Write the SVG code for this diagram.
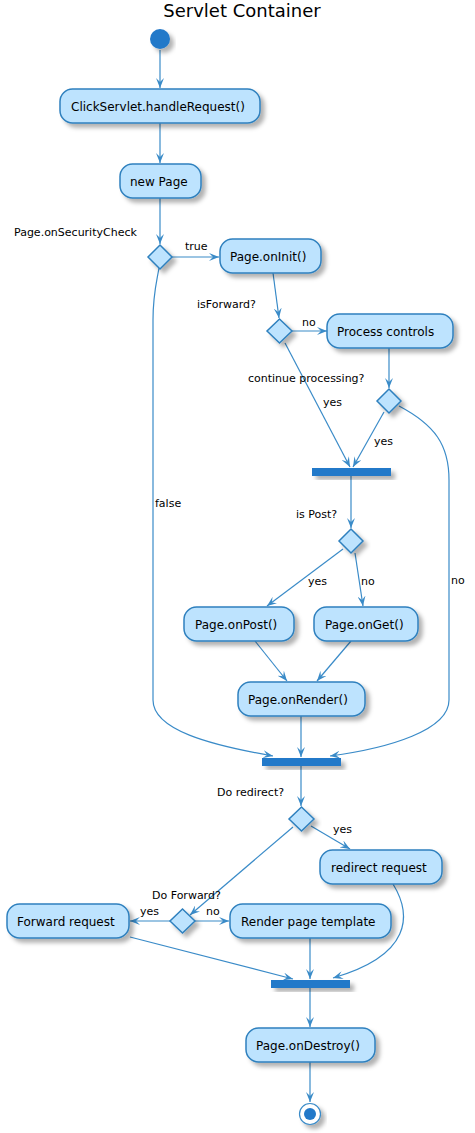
<svg xmlns="http://www.w3.org/2000/svg" width="475" height="1133" viewBox="0 0 475 1133">
<style>
.act{fill:#BDE3FE;stroke:#2F80BE;stroke-width:1.5}
.dia{fill:#BDE3FE;stroke:#2F80BE;stroke-width:1.5}
.bar{fill:#2279C9;stroke:none}
.t{font-family:"DejaVu Sans",sans-serif;font-size:12px;fill:#000}
.l{font-family:"DejaVu Sans",sans-serif;font-size:11px;fill:#000}
.c{fill:none;stroke:#3A8BC8;stroke-width:1.2}
</style>
<defs>
<filter id="sh" x="-20%" y="-20%" width="150%" height="160%">
<feDropShadow dx="4" dy="4" stdDeviation="2" flood-color="#000" flood-opacity="0.3"/>
</filter>
<marker id="ar" viewBox="0 0 10 8" refX="10" refY="4" markerWidth="10" markerHeight="8" markerUnits="userSpaceOnUse" orient="auto">
<path d="M0,0 L10,4 L0,8 L4,4 Z" fill="#3A8BC8"/>
</marker>
</defs>
<rect width="475" height="1133" fill="#fff"/>
<text x="242" y="17" text-anchor="middle" style="font-family:'DejaVu Sans',sans-serif;font-size:18px">Servlet Container</text>

<g id="connectors" class="c" marker-end="url(#ar)">
<path d="M160,50 L160,88"/>
<path d="M160,123 L160,163"/>
<path d="M160,198 L160,244"/>
<path d="M172,257 L219,257"/>
<path d="M273,273 L279,318"/>
<path d="M292,331 L327,331"/>
<path d="M389,348 L389,388"/>
<path d="M285,343 L350,467"/>
<path d="M384,412 L353,467"/>
<path d="M399,406 C435,425 449,445 449,480 L449,700 C449,730 390,748 330,756"/>
<path d="M351,476 L351,528"/>
<path d="M343,549 L267,606"/>
<path d="M355,553 L363,606"/>
<path d="M255,641 L287,681"/>
<path d="M351,641 L317,681"/>
<path d="M301,716 L301,757"/>
<path d="M159,268 C156,285 153,295 153,320 L153,700 C153,730 210,745 273,756"/>
<path d="M301,766 L301,806"/>
<path d="M311,826 L350,849"/>
<path d="M293,827 L190,915"/>
<path d="M170,921 L130,921"/>
<path d="M195,921 L229,921"/>
<path d="M393,884 C412,915 412,955 333,978"/>
<path d="M310,938 L310,979"/>
<path d="M130,937 L293,979"/>
<path d="M310,988 L310,1027"/>
<path d="M310,1062 L310,1102"/>
</g>

<g id="labels">
<text class="l" x="14" y="236">Page.onSecurityCheck</text>
<text class="l" x="185" y="250">true</text>
<text class="l" x="197" y="308">isForward?</text>
<text class="l" x="302" y="326">no</text>
<text class="l" x="248" y="382">continue processing?</text>
<text class="l" x="323" y="406">yes</text>
<text class="l" x="374" y="445">yes</text>
<text class="l" x="155" y="507">false</text>
<text class="l" x="296" y="518">is Post?</text>
<text class="l" x="308" y="585">yes</text>
<text class="l" x="361" y="585">no</text>
<text class="l" x="451" y="584">no</text>
<text class="l" x="217" y="796">Do redirect?</text>
<text class="l" x="333" y="833">yes</text>
<text class="l" x="152" y="899">Do Forward?</text>
<text class="l" x="140" y="915">yes</text>
<text class="l" x="206" y="915">no</text>
</g>

<g id="start"><circle cx="160" cy="39" r="10" fill="#2279C9" filter="url(#sh)"/></g>

<g id="clickservlet"><rect class="act" x="60" y="89" width="200" height="34" rx="12.5" filter="url(#sh)"/><text class="t" x="71" y="110.5">ClickServlet.handleRequest()</text></g>
<g id="newpage"><rect class="act" x="120" y="164" width="81" height="34" rx="12.5" filter="url(#sh)"/><text class="t" x="130" y="185.5">new Page</text></g>
<g id="d-security"><polygon class="dia" points="160,245 172,257 160,269 148,257" filter="url(#sh)"/></g>
<g id="oninit"><rect class="act" x="220" y="239" width="101" height="34" rx="12.5" filter="url(#sh)"/><text class="t" x="230" y="260.5">Page.onInit()</text></g>
<g id="d-forward"><polygon class="dia" points="279.5,319 292,331 279.5,343 267,331" filter="url(#sh)"/></g>
<g id="process"><rect class="act" x="327" y="314" width="126" height="34" rx="12.5" filter="url(#sh)"/><text class="t" x="337" y="335.5">Process controls</text></g>
<g id="d-continue"><polygon class="dia" points="389,389 401,401 389,413 377,401" filter="url(#sh)"/></g>
<g id="bar1"><rect class="bar" x="312" y="468" width="79" height="8" filter="url(#sh)"/></g>
<g id="d-post"><polygon class="dia" points="351,529 363,541 351,553 339,541" filter="url(#sh)"/></g>
<g id="onpost"><rect class="act" x="184" y="607" width="110" height="34" rx="12.5" filter="url(#sh)"/><text class="t" x="195" y="628.5">Page.onPost()</text></g>
<g id="onget"><rect class="act" x="314" y="607" width="104" height="34" rx="12.5" filter="url(#sh)"/><text class="t" x="325" y="628.5">Page.onGet()</text></g>
<g id="onrender"><rect class="act" x="238" y="682" width="127" height="34" rx="12.5" filter="url(#sh)"/><text class="t" x="248" y="703.5">Page.onRender()</text></g>
<g id="bar2"><rect class="bar" x="262" y="758" width="79" height="8" filter="url(#sh)"/></g>
<g id="d-redirect"><polygon class="dia" points="301.5,807 314,819 301.5,831 289,819" filter="url(#sh)"/></g>
<g id="redirect"><rect class="act" x="320" y="850" width="122" height="34" rx="12.5" filter="url(#sh)"/><text class="t" x="331" y="871.5">redirect request</text></g>
<g id="d-doforward"><polygon class="dia" points="182.5,909 195,921 182.5,933 170,921" filter="url(#sh)"/></g>
<g id="forwardreq"><rect class="act" x="7" y="904" width="122" height="34" rx="12.5" filter="url(#sh)"/><text class="t" x="17" y="925.5">Forward request</text></g>
<g id="render"><rect class="act" x="230" y="904" width="161" height="34" rx="12.5" filter="url(#sh)"/><text class="t" x="241" y="925.5">Render page template</text></g>
<g id="bar3"><rect class="bar" x="271" y="980" width="79" height="8" filter="url(#sh)"/></g>
<g id="ondestroy"><rect class="act" x="246" y="1028" width="129" height="34" rx="12.5" filter="url(#sh)"/><text class="t" x="256" y="1049.5">Page.onDestroy()</text></g>
<g id="end"><circle cx="310" cy="1114" r="10.5" fill="#fff" stroke="#3A8BC8" stroke-width="1.2" filter="url(#sh)"/><circle cx="310" cy="1114" r="6" fill="#2279C9"/></g>
</svg>
